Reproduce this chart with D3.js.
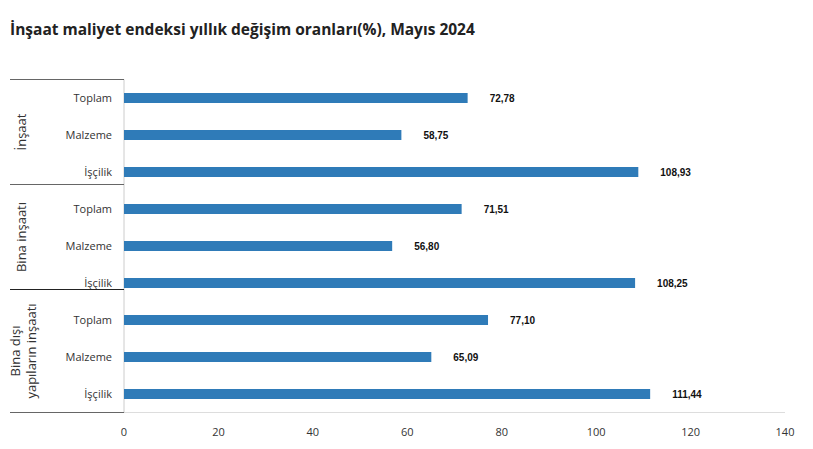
<!DOCTYPE html>
<html><head><meta charset="utf-8">
<script src="https://cdn.jsdelivr.net/npm/d3@7"></script>
<style>body{margin:0;background:#fff;font-family:"Open Sans",sans-serif}</style>
</head><body><svg id="c" width="813" height="449"></svg>
<script>
const groups = ["İnşaat", "Bina inşaatı", "Bina dışı\nyapıların inşaatı"];
const items = ["Toplam", "Malzeme", "İşçilik"];
const values = [72.78, 58.75, 108.93, 71.51, 56.80, 108.25, 77.10, 65.09, 111.44];
const ticks = [0, 20, 40, 60, 80, 100, 120, 140];

const svg = d3.select("#c");
svg.append("text").attr("x", 10).attr("y", 35).attr("font-size", 15.5).attr("font-weight", "bold")
  .attr("fill", "#222").text("İnşaat maliyet endeksi yıllık değişim oranları(%), Mayıs 2024");

const L = 124, R = 785, T = 79.5, B = 412.5;
const rows = values.map((v, i) => ({g: i / 3 | 0, item: items[i % 3], v, i}));
const x = d3.scaleLinear().domain([0, 140]).range([L, R]);
const y = d3.scaleBand().domain(rows.map(d => d.i)).range([T, B]);
const step = y.step();

svg.append("line").attr("x1", L).attr("x2", R).attr("y1", B).attr("y2", B).attr("stroke", "#ddd");
svg.append("line").attr("x1", L).attr("x2", L).attr("y1", T).attr("y2", B).attr("stroke", "#ccc");

const bh = 10;
svg.selectAll("rect.b").data(rows).join("rect").attr("x", x(0))
  .attr("y", d => y(d.i) + step / 2 - bh / 2).attr("height", bh)
  .attr("width", d => x(d.v) - x(0)).attr("fill", "#2f7bb8");
svg.selectAll("text.v").data(rows).join("text").attr("x", d => x(d.v) + 22)
  .attr("y", d => y(d.i) + step / 2 + 4).attr("font-size", 10).attr("font-weight", "bold")
  .attr("fill", "#111").attr("font-family", "Liberation Sans, Arial, sans-serif")
  .text(d => d3.format(".2f")(d.v).replace(".", ","));
svg.selectAll("text.c").data(rows).join("text").attr("x", 112).attr("text-anchor", "end")
  .attr("y", d => y(d.i) + step / 2 + 4).attr("font-size", 11).attr("fill", "#333").text(d => d.item);

// group separators
const seps = [T, T + (3 * step - 6), T + 2 * (3 * step - 6), B];
seps.forEach((s, k) => svg.append("line").attr("x1", 10).attr("x2", L).attr("y1", s).attr("y2", s)
  .attr("stroke", k === 2 ? "#222" : "#666"));

groups.forEach((g, k) => {
  const cy = (seps[k] + seps[k + 1]) / 2;
  const lines = g.split("\n");
  const t = svg.append("text").attr("transform", `translate(${lines.length > 1 ? 22 : 22},${cy}) rotate(-90)`)
    .attr("text-anchor", "middle").attr("font-size", 13).attr("fill", "#333");
  lines.forEach((l, j) => t.append("tspan").attr("x", 0).attr("dy", j === 0 ? (lines.length > 1 ? -2 : 4) : 16).text(l));
});

svg.selectAll("text.t").data(ticks).join("text").attr("x", d => x(d)).attr("y", 436)
  .attr("text-anchor", "middle").attr("font-size", 11).attr("fill", "#333").text(d => d);
</script></body></html>
